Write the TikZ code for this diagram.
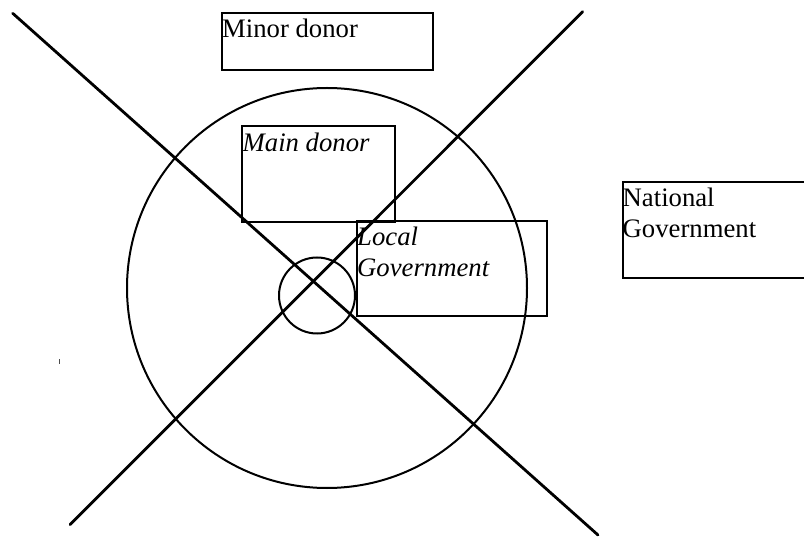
\documentclass[tikz,border=0pt]{standalone}
\usepackage{fontspec}
\setmainfont{Liberation Serif}
\begin{document}
\begin{tikzpicture}[x=1pt,y=-1pt,
  box/.style={draw=black,line width=2.2pt,rectangle,inner sep=0pt,anchor=north west},
  lbl/.style={anchor=base west,inner sep=0pt,align=left,font=\fontsize{26.7}{31}\selectfont},
  cross/.style={line width=2.8pt,line cap=round},
  ring/.style={draw=black,line width=2pt,circle,inner sep=0pt}]
\useasboundingbox (0,0) rectangle (804,537);
\clip (0,0) rectangle (804,537);
\fill[white] (0,0) rectangle (804,537);
% circles
\node[ring,minimum size=400pt] (outer) at (327,288) {};
\node[ring,minimum size=76pt] (inner) at (317,295.5) {};
% crossing lines
\coordinate (l1a) at (12.7,13.3);
\coordinate (l1b) at (598,535);
\coordinate (l2a) at (582.7,11.7);
\coordinate (l2b) at (70,524.7);
\draw[cross] (l1a) -- (l1b);
\draw[cross] (l2a) -- (l2b);
% boxes
\node[box,minimum width=211pt,minimum height=57pt] (minor) at (221,12) {};
\node[box,minimum width=153pt,minimum height=96pt] (main) at (241,125) {};
\node[box,line width=1.9pt,minimum width=190pt,minimum height=95pt] (local) at (356,220) {};
\node[box,minimum width=200pt,minimum height=96pt] (national) at (621.5,181) {};
% labels
\node[lbl] (tminor) at (222,38) {Minor donor};
\node[lbl] (tmain) at (242.5,151.5) {\itshape Main donor};
\node[lbl] (tlocal) at (357,276.5) {\itshape Local\\\itshape Government};
\node[lbl] (tnat) at (622.5,238) {National\\Government};
% scan speck
\draw[line width=1pt,black!70] (59.3,359.5) -- (59.3,364);
\end{tikzpicture}
\end{document}
